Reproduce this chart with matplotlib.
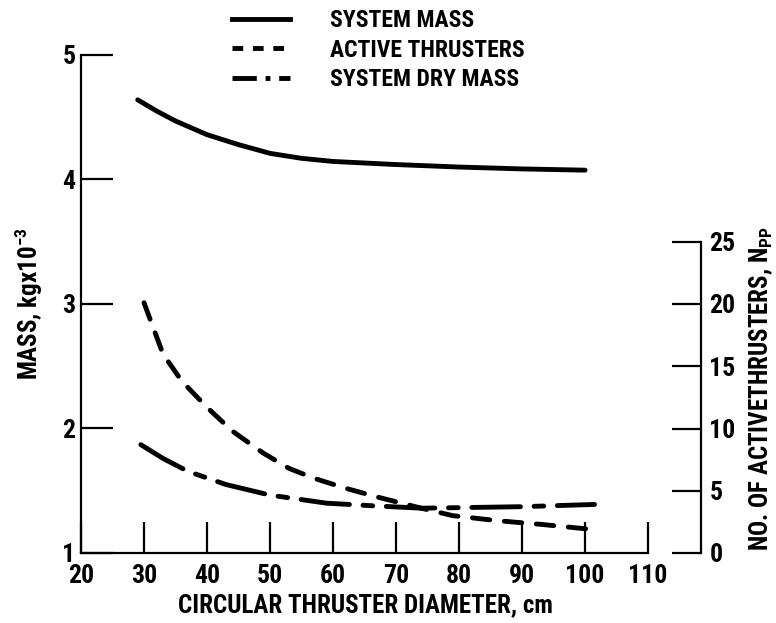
import matplotlib
matplotlib.use('Agg')
import matplotlib.pyplot as plt
from matplotlib.lines import Line2D

plt.rcParams['font.family'] = ['Liberation Sans Narrow', 'Roboto Condensed', 'DejaVu Sans']
plt.rcParams['font.weight'] = 'bold'
plt.rcParams['axes.labelweight'] = 'bold'

# values
diam_mass = [29, 32, 35, 40, 45, 50, 55, 60, 70, 80, 90, 100]
system_mass = [4.64, 4.55, 4.47, 4.36, 4.28, 4.21, 4.17, 4.145, 4.12, 4.10, 4.085, 4.075]

diam_active = [30, 33, 36, 40, 44, 49, 53, 57, 62, 67, 74, 79, 86, 93, 101]
active_thrusters = [20.1, 16.0, 13.8, 11.7, 9.8, 8.0, 6.8, 6.0, 5.2, 4.5, 3.6, 3.0, 2.6, 2.3, 1.9]

diam_dry = [29.5, 33, 37, 43, 50, 59, 66, 74, 81, 90, 101.5]
system_dry_mass = [1.87, 1.76, 1.655, 1.55, 1.465, 1.40, 1.38, 1.36, 1.365, 1.372, 1.39]

x_ticks = [20, 30, 40, 50, 60, 70, 80, 90, 100, 110]
mass_ticks = [1, 2, 3, 4, 5]
n_ticks = [0, 5, 10, 15, 20, 25]

W, H = 776, 623
fig = plt.figure(figsize=(W / 100, H / 100), dpi=100)
ax = fig.add_axes([81 / W, (H - 553) / H, (701 - 81) / W, (553 - 55) / H])
ax2 = ax.twinx()

lw = 3.5
ax.plot(diam_mass, system_mass, color='black', lw=lw, solid_capstyle='round')
ax2.plot(diam_active, active_thrusters, color='black', lw=lw,
         dashes=(3.6, 3.0), dash_capstyle='round')
ax.plot(diam_dry, system_dry_mass, color='black', lw=lw,
        dashes=(10, 2.8, 2, 2.8), dash_capstyle='round')

ax.set_xlim(20, 118.4)
ax.set_ylim(1, 5)
ax2.set_ylim(0, 40)

for s in ['top', 'right']:
    ax.spines[s].set_visible(False)
for s in ['top', 'left', 'bottom']:
    ax2.spines[s].set_visible(False)
ax.spines['left'].set_bounds(1, 5)
ax.spines['bottom'].set_bounds(20, 110)
ax2.spines['right'].set_bounds(0, 25)
for sp in [ax.spines['left'], ax.spines['bottom'], ax2.spines['right']]:
    sp.set_linewidth(1.6)

fs = 17
tfs = 18.5
ax.set_xticks(x_ticks)
ax.set_yticks(mass_ticks)
ax2.set_yticks(n_ticks)
ax.tick_params(axis='x', direction='in', length=22, width=1.6, pad=8, labelsize=tfs)
ax.tick_params(axis='y', direction='in', length=23, width=1.6, pad=4, labelsize=tfs)
ax2.tick_params(axis='y', direction='in', length=21, width=1.6, pad=6, labelsize=tfs)

ax.set_xlabel('CIRCULAR THRUSTER DIAMETER, cm', fontsize=18)
ax.xaxis.set_label_coords(0.458, -0.08)
ax.set_ylabel(r'MASS, kgx10$^{\mathregular{-3}}$', fontsize=18)
ax.yaxis.set_label_coords(-0.058, 0.5)
ax2.set_ylabel(r'NO. OF ACTIVETHRUSTERS, N$_{\mathregular{PP}}$', fontsize=18)
ax2.yaxis.set_label_coords(1.074, 0.33)

handles = [
    Line2D([], [], color='black', lw=lw),
    Line2D([], [], color='black', lw=lw, dashes=(2.2, 2.0)),
    Line2D([], [], color='black', lw=lw, dashes=(5, 1.8, 1, 1.8)),
]
labels = ['SYSTEM MASS', 'ACTIVE THRUSTERS', 'SYSTEM DRY MASS']
fig.legend(handles, labels, loc='upper left', bbox_to_anchor=(232 / W, 1 - 9 / H),
           frameon=False, fontsize=fs, handlelength=2.45, handletextpad=1.7,
           labelspacing=0.28, borderpad=0, borderaxespad=0)

fig.savefig('out.png', dpi=100)
